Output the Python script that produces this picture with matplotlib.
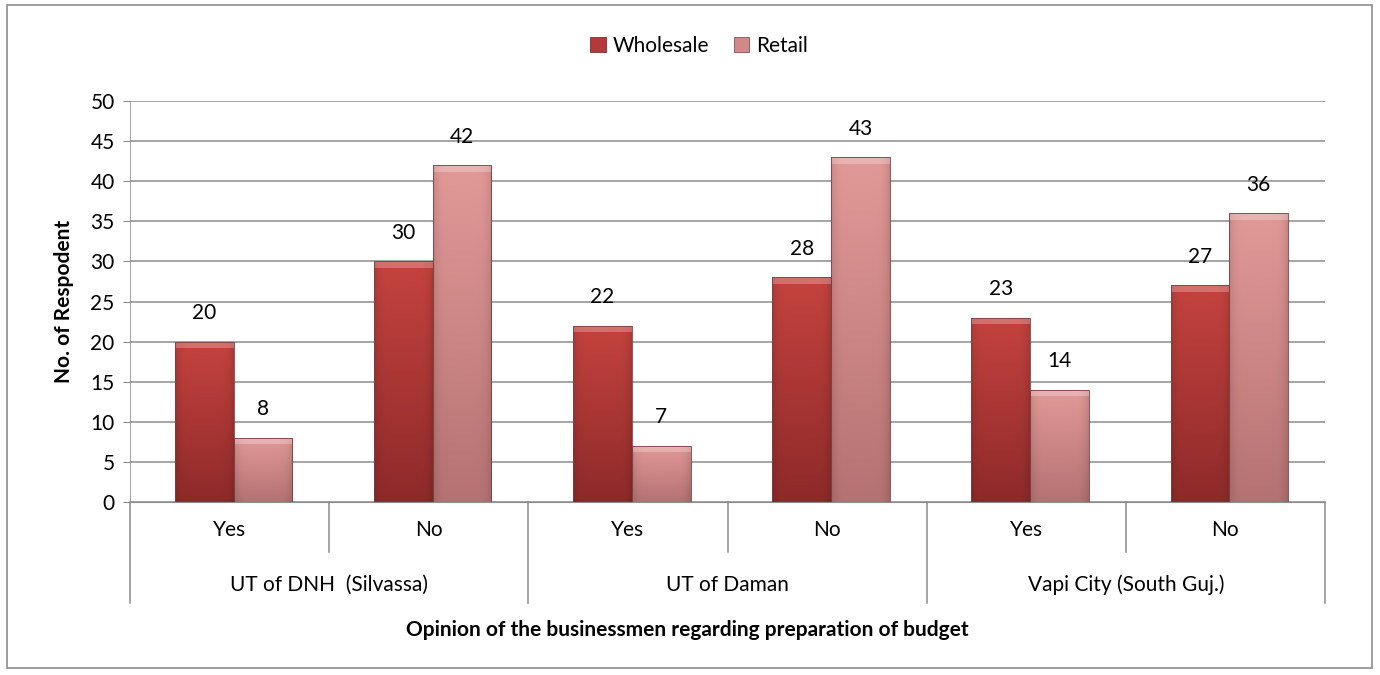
import matplotlib.pyplot as plt
import matplotlib.transforms as mtransforms
from matplotlib.colors import to_rgb
from matplotlib.patches import Rectangle, Patch
import numpy as np

plt.rcParams['font.family'] = ['Lato', 'DejaVu Sans']

regions = ["UT of DNH  (Silvassa)", "UT of Daman", "Vapi City (South Guj.)"]
answers = ["Yes", "No"]
wholesale = [20, 30, 22, 28, 23, 27]
retail = [8, 42, 7, 43, 14, 36]

W_COL = "#b3383a"
R_COL = "#d98a8a"
FS = 15


def shade_bars(ax, bars, top, bottom):
    # gradient painted inside each bar (darker at bottom and at the sides), light bevel on top
    top, bottom = np.array(to_rgb(top)), np.array(to_rgb(bottom))
    t = np.linspace(0, 1, 128)[:, None, None]
    s = np.linspace(-1, 1, 64)[None, :, None]
    img = bottom + (top - bottom) * t
    img = img * (1 - 0.12 * s ** 6)
    img = np.clip(img, 0, 1)
    for b in bars:
        x0, y0 = b.get_x(), b.get_y()
        w, h = b.get_width(), b.get_height()
        im = ax.imshow(img, origin="lower", aspect="auto",
                       extent=[x0, x0 + w, y0, y0 + h], zorder=2)
        im.set_clip_path(b)
        ax.add_patch(Rectangle((x0, y0 + h - 0.8), w, 0.8, color="white",
                               alpha=0.25, lw=0, zorder=3))
        b.set_facecolor("none")
        b.set_edgecolor("#7a4040")
        b.set_linewidth(0.6)
        b.set_zorder(4)


def main():
    fig = plt.figure(figsize=(13.8, 6.75), dpi=100)
    fig.patches.append(Rectangle((7 / 1380, 7 / 675), 1365 / 1380, 663 / 675,
                                 transform=fig.transFigure, fill=False,
                                 edgecolor="#8c8c8c", lw=1.2))
    ax = fig.add_axes([130 / 1380, (675 - 502) / 675, 1195 / 1380, 401 / 675])

    x = np.arange(len(wholesale))
    bw = 0.295
    b1 = ax.bar(x - bw / 2 + 0.02, wholesale, bw, color=W_COL)
    b2 = ax.bar(x + bw / 2 + 0.02, retail, bw, color=R_COL)
    shade_bars(ax, b1, "#c5433f", "#8e2a2a")
    shade_bars(ax, b2, "#e29a98", "#b57272")

    for bars, vals in ((b1, wholesale), (b2, retail)):
        for b, v in zip(bars, vals):
            ax.text(b.get_x() + b.get_width() / 2, v + 2.3, str(v),
                    ha="center", va="bottom", fontsize=FS)

    ax.set_xlim(-0.5, len(wholesale) - 0.5)
    ax.set_ylim(0, 50)
    ax.set_yticks(range(0, 51, 5))
    ax.yaxis.grid(True, color="#8c8c8c", lw=1.1)
    ax.set_axisbelow(True)
    for s in ("top", "right", "left"):
        ax.spines[s].set_visible(False)
    ax.spines["bottom"].set_color("#8c8c8c")
    ax.tick_params(axis="y", length=5, color="#8c8c8c", labelsize=FS, pad=6)
    ax.tick_params(axis="x", length=0, labelsize=FS, pad=13)
    ax.set_xticks(x)
    ax.set_xticklabels(answers * len(regions))

    # two-level category axis: short separators between answers, long ones between regions
    trans = mtransforms.blended_transform_factory(ax.transData, ax.transAxes)
    for i in range(len(wholesale) + 1):
        xp = i - 0.5
        low = -0.252 if i % 2 == 0 else -0.125
        ax.plot([xp, xp], [0, low], transform=trans, color="#8c8c8c",
                lw=1.1, clip_on=False)
    ax.plot([-0.5, -0.5], [0, 1], transform=trans, color="#8c8c8c", lw=1.1)
    for j, r in enumerate(regions):
        ax.text(2 * j + 0.5, -0.207, r, transform=trans, ha="center",
                va="center", fontsize=FS)

    fig.text(687 / 1380, 1 - 630 / 675,
             "Opinion of the businessmen regarding preparation of budget",
             ha="center", va="center", fontsize=FS, fontweight="bold")
    ax.set_ylabel("No. of Respodent", fontsize=FS, fontweight="bold", labelpad=12)

    handles = [Patch(facecolor="#b5383a", edgecolor="#7a3030", lw=0.6, label="Wholesale"),
               Patch(facecolor="#d08888", edgecolor="#8a5050", lw=0.6, label="Retail")]
    fig.legend(handles=handles, loc="center", bbox_to_anchor=(699 / 1380, 1 - 46 / 675),
               ncol=2, frameon=False, fontsize=FS, handlelength=0.75, handleheight=0.75,
               handletextpad=0.3, columnspacing=1.2)

    fig.savefig("out.png", dpi=100)


if __name__ == '__main__':
    main()
